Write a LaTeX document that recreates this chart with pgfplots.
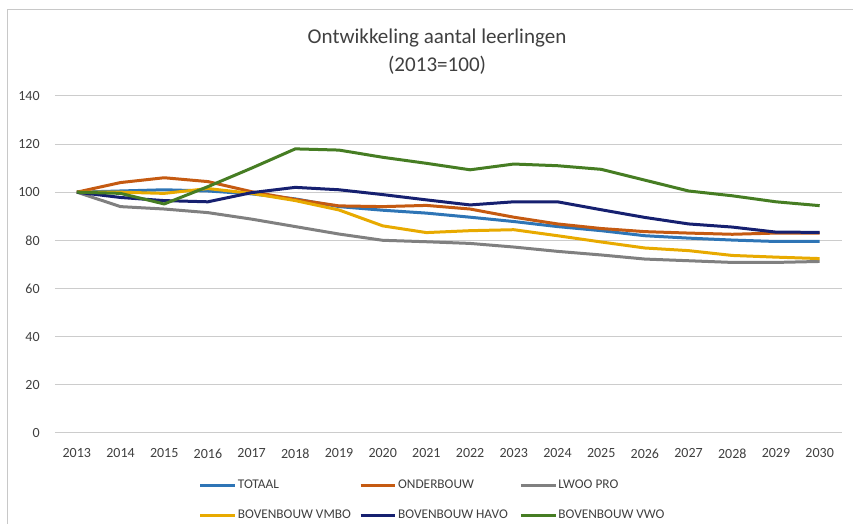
\documentclass[border=0pt]{standalone}
\usepackage{pgfplots}
\pgfplotsset{compat=1.18}
\usepackage{fontspec}
\setmainfont{Carlito}
\definecolor{cTot}{RGB}{46,117,182}
\definecolor{cOnd}{RGB}{197,90,17}
\definecolor{cLwoo}{RGB}{128,128,128}
\definecolor{cVmbo}{RGB}{232,170,0}
\definecolor{cHavo}{RGB}{22,32,112}
\definecolor{cVwo}{RGB}{70,125,35}
\definecolor{txt}{RGB}{64,64,64}
\definecolor{frame}{RGB}{200,200,200}
\begin{document}
\begin{tikzpicture}
\fill[white] (0pt,0pt) rectangle (639.75pt,393pt);
\draw[draw=frame, line width=0.75pt] (6pt,0pt) -- (6pt,385.5pt) -- (639.75pt,385.5pt);
\node[align=center, font=\fontsize{15.8}{21}\selectfont, text=txt] at (328pt,354pt) {Ontwikkeling aantal leerlingen\\(2013=100)};
\begin{axis}[
  at={(41.25pt,68.25pt)}, anchor=south west,
  scale only axis, width=590.25pt, height=252.75pt,
  xmin=-0.5, xmax=17.5, ymin=0, ymax=140,
  xtick={0,...,17},
  xticklabels={2013,2014,2015,2016,2017,2018,2019,2020,2021,2022,2023,2024,2025,2026,2027,2028,2029,2030},
  ytick={0,20,...,140},
  ymajorgrids, major grid style={draw=gray!40, line width=0.75pt},
  axis line style={draw=none},
  major tick length=0pt,
  tick label style={font=\fontsize{10.5}{12}\selectfont, text=txt},
  /pgf/number format/assume math mode=true,
  xticklabel style={yshift=-8.5pt},
  yticklabel style={xshift=-8pt},
  clip=false,
  legend columns=3,
  legend style={at={(0.183,-0.137)}, anchor=north west, draw=none, fill=none,
    inner sep=0pt, outer sep=0pt,
    nodes={inner sep=1pt},
    font=\fontsize{10}{12}\selectfont, text=txt,
    /tikz/every even column/.append style={column sep=0pt},
    row sep=12.5pt},
  legend cell align=left,
  legend image code/.code={\draw[#1, line width=2.25pt] (0pt,0pt) -- (26pt,0pt);},
  every axis plot/.append style={line width=2.25pt, line join=round},
]
\addplot[cTot] coordinates {(0,100)(1,100.5)(2,101)(3,100.5)(4,99.3)(5,97.2)(6,94)(7,92.5)(8,91.3)(9,89.6)(10,87.8)(11,85.7)(12,84)(13,81.9)(14,80.9)(15,80.1)(16,79.5)(17,79.5)};
\addlegendentry{\makebox[90pt][l]{TOTAAL}}
\addplot[cOnd] coordinates {(0,100)(1,104)(2,106)(3,104.4)(4,100.2)(5,97)(6,94.3)(7,94)(8,94.5)(9,93)(10,89.6)(11,86.8)(12,84.9)(13,83.6)(14,83)(15,82.5)(16,83)(17,83)};
\addlegendentry{\makebox[90pt][l]{ONDERBOUW}}
\addplot[cLwoo] coordinates {(0,100)(1,94)(2,93)(3,91.5)(4,88.8)(5,85.7)(6,82.6)(7,80)(8,79.4)(9,78.7)(10,77.2)(11,75.4)(12,73.9)(13,72.2)(14,71.5)(15,70.8)(16,70.8)(17,71.2)};
\addlegendentry{LWOO PRO}
\addplot[cVmbo] coordinates {(0,100)(1,100)(2,99.5)(3,101.5)(4,99.5)(5,96.5)(6,92.6)(7,86)(8,83.2)(9,84)(10,84.4)(11,81.9)(12,79.3)(13,76.8)(14,75.7)(15,73.7)(16,73)(17,72.4)};
\addlegendentry{\makebox[90pt][l]{BOVENBOUW VMBO}}
\addplot[cHavo] coordinates {(0,100)(1,97.8)(2,96.5)(3,96)(4,99.8)(5,102)(6,101)(7,99)(8,96.8)(9,94.7)(10,96)(11,96)(12,92.7)(13,89.5)(14,86.8)(15,85.5)(16,83.4)(17,83.3)};
\addlegendentry{\makebox[90pt][l]{BOVENBOUW HAVO}}
\addplot[cVwo] coordinates {(0,100)(1,99.5)(2,95.1)(3,102.3)(4,110)(5,118)(6,117.5)(7,114.5)(8,112)(9,109.3)(10,111.7)(11,111)(12,109.5)(13,105)(14,100.5)(15,98.5)(16,96)(17,94.4)};
\addlegendentry{BOVENBOUW VWO}
\end{axis}
\end{tikzpicture}
\end{document}
